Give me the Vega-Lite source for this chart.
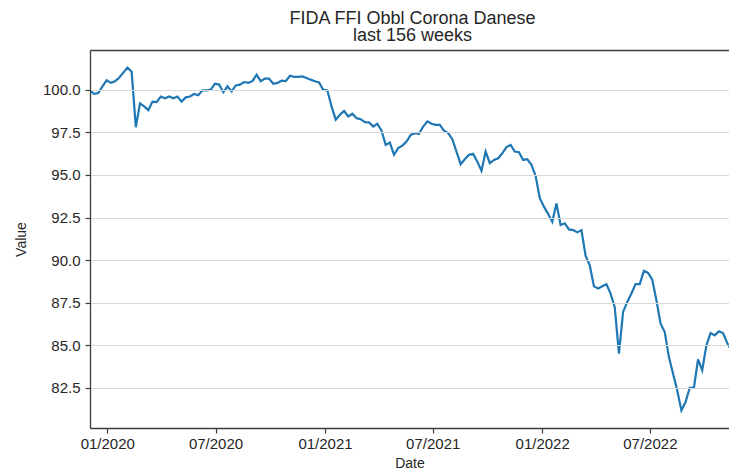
{
  "$schema": "https://vega.github.io/schema/vega-lite/v6.json",
  "width": 639,
  "height": 378,
  "autosize": {"type": "none"},
  "padding": {"left": 90, "top": 50, "right": 0, "bottom": 46},
  "background": "white",
  "config": {
    "view": {"stroke": null},
    "font": "Liberation Sans",
    "axis": {
      "labelFont": "Liberation Sans",
      "titleFont": "Liberation Sans",
      "labelColor": "#262626",
      "titleColor": "#262626",
      "titleFontWeight": "normal"
    }
  },
  "title": {
    "text": ["FIDA FFI Obbl Corona Danese", "last 156 weeks"],
    "font": "Liberation Sans",
    "fontSize": 18,
    "fontWeight": "normal",
    "color": "#262626",
    "lineHeight": 17.5,
    "anchor": "middle",
    "dx": 3,
    "offset": 5
  },
  "data": {
    "values": [
      {"date": "2019-12-03", "value": 99.94},
      {"date": "2019-12-10", "value": 99.76},
      {"date": "2019-12-17", "value": 99.8},
      {"date": "2019-12-24", "value": 100.2},
      {"date": "2019-12-31", "value": 100.55},
      {"date": "2020-01-07", "value": 100.4},
      {"date": "2020-01-14", "value": 100.5},
      {"date": "2020-01-21", "value": 100.7},
      {"date": "2020-01-28", "value": 101.0},
      {"date": "2020-02-04", "value": 101.3},
      {"date": "2020-02-11", "value": 101.05},
      {"date": "2020-02-18", "value": 97.8},
      {"date": "2020-02-25", "value": 99.2},
      {"date": "2020-03-03", "value": 99.02},
      {"date": "2020-03-10", "value": 98.8},
      {"date": "2020-03-17", "value": 99.3},
      {"date": "2020-03-24", "value": 99.27},
      {"date": "2020-03-31", "value": 99.6},
      {"date": "2020-04-07", "value": 99.5},
      {"date": "2020-04-14", "value": 99.6},
      {"date": "2020-04-21", "value": 99.5},
      {"date": "2020-04-28", "value": 99.6},
      {"date": "2020-05-05", "value": 99.3},
      {"date": "2020-05-12", "value": 99.55},
      {"date": "2020-05-19", "value": 99.6},
      {"date": "2020-05-26", "value": 99.75},
      {"date": "2020-06-02", "value": 99.67},
      {"date": "2020-06-09", "value": 99.96},
      {"date": "2020-06-16", "value": 99.96},
      {"date": "2020-06-23", "value": 100.0},
      {"date": "2020-06-30", "value": 100.35},
      {"date": "2020-07-07", "value": 100.3},
      {"date": "2020-07-14", "value": 99.85},
      {"date": "2020-07-21", "value": 100.2},
      {"date": "2020-07-28", "value": 99.9},
      {"date": "2020-08-04", "value": 100.25},
      {"date": "2020-08-11", "value": 100.3},
      {"date": "2020-08-18", "value": 100.45},
      {"date": "2020-08-25", "value": 100.4},
      {"date": "2020-09-01", "value": 100.5},
      {"date": "2020-09-08", "value": 100.88},
      {"date": "2020-09-15", "value": 100.5},
      {"date": "2020-09-22", "value": 100.65},
      {"date": "2020-09-29", "value": 100.65},
      {"date": "2020-10-06", "value": 100.35},
      {"date": "2020-10-13", "value": 100.4},
      {"date": "2020-10-20", "value": 100.53},
      {"date": "2020-10-27", "value": 100.5},
      {"date": "2020-11-03", "value": 100.82},
      {"date": "2020-11-10", "value": 100.75},
      {"date": "2020-11-17", "value": 100.75},
      {"date": "2020-11-24", "value": 100.78},
      {"date": "2020-12-01", "value": 100.69},
      {"date": "2020-12-08", "value": 100.59},
      {"date": "2020-12-15", "value": 100.5},
      {"date": "2020-12-22", "value": 100.43},
      {"date": "2020-12-29", "value": 100.0},
      {"date": "2021-01-05", "value": 99.96},
      {"date": "2021-01-12", "value": 99.02},
      {"date": "2021-01-19", "value": 98.24},
      {"date": "2021-01-26", "value": 98.53},
      {"date": "2021-02-02", "value": 98.76},
      {"date": "2021-02-09", "value": 98.43},
      {"date": "2021-02-16", "value": 98.59},
      {"date": "2021-02-23", "value": 98.33},
      {"date": "2021-03-02", "value": 98.27},
      {"date": "2021-03-09", "value": 98.1},
      {"date": "2021-03-16", "value": 98.08},
      {"date": "2021-03-23", "value": 97.84},
      {"date": "2021-03-30", "value": 98.0},
      {"date": "2021-04-06", "value": 97.59},
      {"date": "2021-04-13", "value": 96.76},
      {"date": "2021-04-20", "value": 96.9},
      {"date": "2021-04-27", "value": 96.18},
      {"date": "2021-05-04", "value": 96.57},
      {"date": "2021-05-11", "value": 96.72},
      {"date": "2021-05-18", "value": 96.96},
      {"date": "2021-05-25", "value": 97.35},
      {"date": "2021-06-01", "value": 97.45},
      {"date": "2021-06-08", "value": 97.41},
      {"date": "2021-06-15", "value": 97.84},
      {"date": "2021-06-22", "value": 98.14},
      {"date": "2021-06-29", "value": 98.0},
      {"date": "2021-07-06", "value": 97.94},
      {"date": "2021-07-13", "value": 97.94},
      {"date": "2021-07-20", "value": 97.6},
      {"date": "2021-07-27", "value": 97.45},
      {"date": "2021-08-03", "value": 97.1},
      {"date": "2021-08-10", "value": 96.37},
      {"date": "2021-08-17", "value": 95.63},
      {"date": "2021-08-24", "value": 95.92},
      {"date": "2021-08-31", "value": 96.18},
      {"date": "2021-09-07", "value": 96.24},
      {"date": "2021-09-14", "value": 95.78},
      {"date": "2021-09-21", "value": 95.24},
      {"date": "2021-09-28", "value": 96.37},
      {"date": "2021-10-05", "value": 95.69},
      {"date": "2021-10-12", "value": 95.88},
      {"date": "2021-10-19", "value": 95.98},
      {"date": "2021-10-26", "value": 96.27},
      {"date": "2021-11-02", "value": 96.63},
      {"date": "2021-11-09", "value": 96.76},
      {"date": "2021-11-16", "value": 96.37},
      {"date": "2021-11-23", "value": 96.33},
      {"date": "2021-11-30", "value": 95.88},
      {"date": "2021-12-07", "value": 95.92},
      {"date": "2021-12-14", "value": 95.59},
      {"date": "2021-12-21", "value": 94.94},
      {"date": "2021-12-28", "value": 93.63},
      {"date": "2022-01-04", "value": 93.14},
      {"date": "2022-01-11", "value": 92.71},
      {"date": "2022-01-18", "value": 92.25},
      {"date": "2022-01-25", "value": 93.33},
      {"date": "2022-02-01", "value": 92.06},
      {"date": "2022-02-08", "value": 92.16},
      {"date": "2022-02-15", "value": 91.8},
      {"date": "2022-02-22", "value": 91.76},
      {"date": "2022-03-01", "value": 91.63},
      {"date": "2022-03-08", "value": 91.76},
      {"date": "2022-03-15", "value": 90.24},
      {"date": "2022-03-22", "value": 89.7},
      {"date": "2022-03-29", "value": 88.47},
      {"date": "2022-04-05", "value": 88.33},
      {"date": "2022-04-12", "value": 88.47},
      {"date": "2022-04-19", "value": 88.59},
      {"date": "2022-04-26", "value": 88.04},
      {"date": "2022-05-03", "value": 87.22},
      {"date": "2022-05-10", "value": 84.51},
      {"date": "2022-05-17", "value": 86.96},
      {"date": "2022-05-24", "value": 87.55},
      {"date": "2022-05-31", "value": 88.04},
      {"date": "2022-06-07", "value": 88.59},
      {"date": "2022-06-14", "value": 88.59},
      {"date": "2022-06-21", "value": 89.37},
      {"date": "2022-06-28", "value": 89.25},
      {"date": "2022-07-05", "value": 88.86},
      {"date": "2022-07-12", "value": 87.65},
      {"date": "2022-07-19", "value": 86.27},
      {"date": "2022-07-26", "value": 85.78},
      {"date": "2022-08-02", "value": 84.31},
      {"date": "2022-08-09", "value": 83.33},
      {"date": "2022-08-16", "value": 82.35},
      {"date": "2022-08-23", "value": 81.18},
      {"date": "2022-08-30", "value": 81.67},
      {"date": "2022-09-06", "value": 82.51},
      {"date": "2022-09-13", "value": 82.51},
      {"date": "2022-09-20", "value": 84.18},
      {"date": "2022-09-27", "value": 83.53},
      {"date": "2022-10-04", "value": 85.0},
      {"date": "2022-10-11", "value": 85.72},
      {"date": "2022-10-18", "value": 85.59},
      {"date": "2022-10-25", "value": 85.82},
      {"date": "2022-11-01", "value": 85.72},
      {"date": "2022-11-08", "value": 85.14},
      {"date": "2022-11-15", "value": 84.7},
      {"date": "2022-11-22", "value": 84.9}
    ]
  },
  "layer": [
    {
      "mark": {"type": "line", "clip": true, "color": "#1f77b4", "strokeWidth": 2.2},
      "encoding": {
        "x": {
          "field": "date",
          "type": "temporal",
          "scale": {"type": "utc", "domain": [1575331200000, 1668124800000], "nice": false},
          "axis": {
            "title": "Date",
            "orient": "bottom",
            "domain": true,
            "domainColor": "#3d3d3d",
            "domainWidth": 1.3,
            "domainOpacity": 1,
            "ticks": true,
            "tickColor": "#3d3d3d",
            "tickWidth": 1.2,
            "tickSize": 5,
            "zindex": 1,
            "values": [1577836800000, 1593561600000, 1609459200000, 1625097600000, 1640995200000, 1656633600000],
            "labelExpr": "utcFormat(datum.value, '%m/%Y')",
            "grid": false,
            "labelFontSize": 15,
            "labelPadding": 3,
            "labelFlush": false,
            "labelOverlap": false,
            "titleFontSize": 14,
            "titlePadding": 5
          }
        },
        "y": {
          "field": "value",
          "type": "quantitative",
          "scale": {"domain": [80.15, 102.33], "nice": false, "zero": false},
          "axis": {
            "title": "Value",
            "domain": true,
            "domainColor": "#3d3d3d",
            "domainWidth": 1.3,
            "domainOpacity": 1,
            "ticks": true,
            "tickColor": "#3d3d3d",
            "tickWidth": 1.2,
            "tickSize": 5,
            "zindex": 1,
            "values": [82.5, 85, 87.5, 90, 92.5, 95, 97.5, 100],
            "format": ".1f",
            "grid": true,
            "gridColor": "#d9d9d9",
            "gridWidth": 1.1,
            "labelFontSize": 15,
            "labelPadding": 5,
            "titleFontSize": 14,
            "titlePadding": 14
          }
        }
      }
    },
    {
      "mark": {"type": "line", "clip": true, "strokeOpacity": 0},
      "encoding": {
        "x": {
          "field": "date",
          "type": "temporal",
          "scale": {"type": "utc", "domain": [1575331200000, 1668124800000], "nice": false},
          "axis": {"orient": "top", "title": null, "labels": false, "ticks": false, "grid": false, "domain": true, "domainColor": "#3d3d3d", "domainWidth": 1.3}
        },
        "y": {
          "field": "value",
          "type": "quantitative"
        }
      }
    }
  ],
  "resolve": {"scale": {"x": "independent"}, "axis": {"x": "independent"}}
}
